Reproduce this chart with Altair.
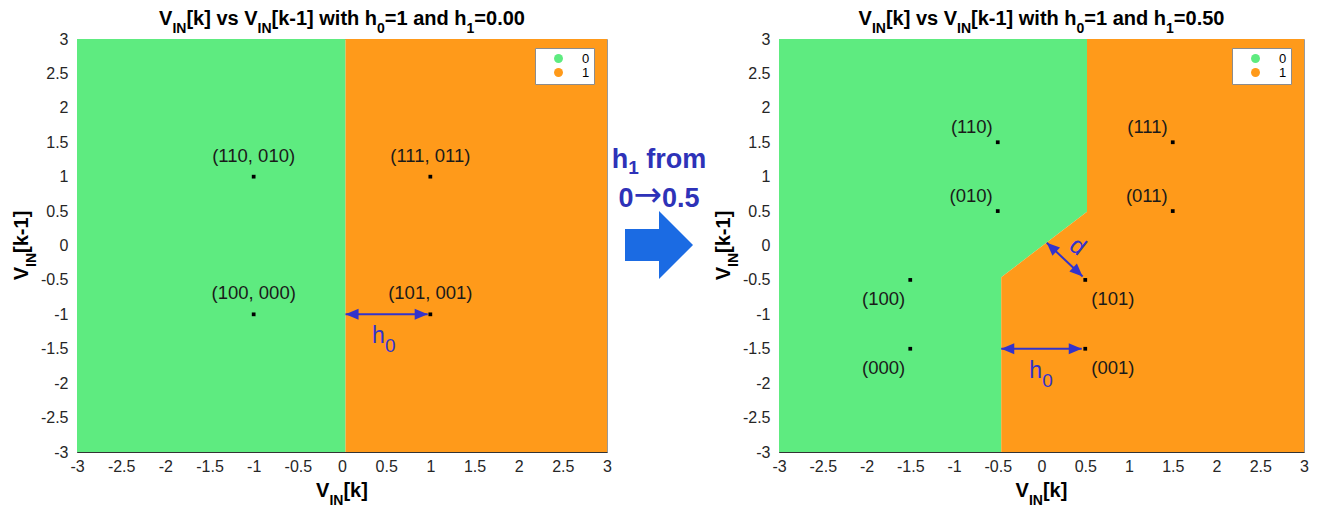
import math
import altair as alt
import pandas as pd

# ---------------- data ----------------
CLASSES = ["0", "1"]
CLASS_COLORS = ["#5EEB80", "#FF9A1A"]
TICKS = [-3, -2.5, -2, -1.5, -1, -0.5, 0, 0.5, 1, 1.5, 2, 2.5, 3]

# panel 1: h0 = 1, h1 = 0.00
P1_X = [-1, 1, -1, 1]
P1_Y = [1, 1, -1, -1]
P1_LABELS = ["(110, 010)", "(111, 011)", "(100, 000)", "(101, 001)"]
P1_BOUND_Y = [-3, 3]
P1_BOUND_X = [0.04, 0.04]
P1_H0_ARROW_X = [0.04, 0.97]
P1_H0_ARROW_Y = [-1, -1]
P1_H0_TEXT_XY = [0.34, -1.42]

# panel 2: h0 = 1, h1 = 0.50
P2_X = [-0.5, 1.5, -0.5, 1.5, -1.5, 0.5, -1.5, 0.5]
P2_Y = [1.5, 1.5, 0.5, 0.5, -0.5, -0.5, -1.5, -1.5]
P2_LABELS = ["(110)", "(111)", "(010)", "(011)", "(100)", "(101)", "(000)", "(001)"]
P2_BOUND_Y = [-3, -0.46, 0.49, 3]
P2_BOUND_X = [-0.46, -0.46, 0.52, 0.52]
P2_H0_ARROW_X = [-0.46, 0.46]
P2_H0_ARROW_Y = [-1.5, -1.5]
P2_H0_TEXT_XY = [-0.14, -1.93]
P2_D_ARROW_X = [0.06, 0.47]
P2_D_ARROW_Y = [0.04, -0.45]
P2_D_TEXT_XY = [0.41, -0.02]

# ---------------- style ----------------
FONT = "Liberation Sans"
BLUE = "#3333CC"
TXT_BLUE = "#2E32B8"
BIG_ARROW = "#1B6BE3"
W1, W2, WM, H = 530, 525, 172, 413
ONE = pd.DataFrame({"k": [0]})

BOLD_W = {" ": 278, "(": 333, ")": 333, ",": 278, "-": 333, ".": 278, "=": 584,
          "[": 333, "]": 333, "I": 278, "N": 722, "V": 667, "a": 556, "d": 611,
          "f": 333, "h": 611, "i": 278, "k": 556, "m": 889, "n": 611, "o": 611,
          "r": 389, "s": 556, "t": 333, "v": 556, "w": 778, "\u2192": 838}


def tw(s, size):
    return sum(BOLD_W.get(c, 556) for c in s) * size / 1000.0


def txt(t, x, y, size, bold=False, color="black", align="left",
        baseline="alphabetic", angle=0, font=FONT):
    return alt.Chart(ONE).mark_text(
        text=t, fontSize=size, font=font,
        fontWeight="bold" if bold else "normal", color=color,
        align=align, baseline=baseline, angle=angle,
    ).encode(x=alt.value(x), y=alt.value(y))


def rich(pieces, c, base, size=20, sub=14, drop=8, color="black", vertical=False):
    """pieces: (text, is_sub[, font, size, bold, dy])"""
    specs = []
    for p in pieces:
        t, s = p[0], p[1]
        font = p[2] if len(p) > 2 else FONT
        fs = p[3] if len(p) > 3 else (sub if s else size)
        bold = p[4] if len(p) > 4 else True
        extra = p[5] if len(p) > 5 else 0
        specs.append((t, s, font, fs, bold, extra, tw(t, fs)))
    off = -sum(sp[-1] for sp in specs) / 2
    out = []
    for t, s, font, fs, bold, extra, w in specs:
        lead = len(t) - len(t.lstrip(" "))
        shown = t.lstrip(" ")
        pos = off + tw(" " * lead, fs)
        d = (drop if s else 0) + extra
        if vertical:
            out.append(txt(shown, base + d, c - pos, fs, bold, color, angle=270, font=font))
        else:
            out.append(txt(shown, c + pos, base + d, fs, bold, color, font=font))
        off += w
    return out


def title_pieces(h1):
    return [("V", 0), ("IN", 1), ("[k] vs V", 0), ("IN", 1), ("[k-1] with h", 0),
            ("0", 1), ("=1 and h", 0), ("1", 1), ("=" + h1, 0)]


def axis_common():
    return dict(values=TICKS, title=None, grid=False, ticks=False, labelOverlap=False,
                labelExpr="'' + datum.value", labelFontSize=16, labelFont=FONT,
                labelColor="#262626", domainColor="#333333", labelFlush=False)


SCALE = alt.Scale(domain=[-3, 3], nice=False, zero=False)


def X(f="x"):
    return alt.X(f + ":Q", scale=SCALE, axis=alt.Axis(labelPadding=6, **axis_common()))


def Y(f="y"):
    return alt.Y(f + ":Q", scale=SCALE, axis=alt.Axis(labelPadding=9, **axis_common()))


def regions(bx, by, legend_x):
    rows = []
    for xb, yb in zip(bx, by):
        rows.append({"cls": CLASSES[0], "y": yb, "x": -3, "x2": xb})
    for xb, yb in zip(bx, by):
        rows.append({"cls": CLASSES[1], "y": yb, "x": xb, "x2": 3})
    df = pd.DataFrame(rows)
    return alt.Chart(df).mark_area(orient="horizontal", interpolate="linear").encode(
        y=Y(), x=X(), x2="x2:Q",
        color=alt.Color("cls:N", scale=alt.Scale(domain=CLASSES, range=CLASS_COLORS),
                        legend=alt.Legend(orient="none", legendX=legend_x, legendY=9,
                                          title=None, symbolType="circle", symbolSize=80,
                                          symbolStrokeWidth=0, labelFontSize=13,
                                          labelFont=FONT, labelColor="black",
                                          fillColor="white", strokeColor="#8c8c8c",
                                          padding=4, rowPadding=-1,
                                          symbolOffset=13, labelOffset=17)),
        detail="cls:N",
    )


def points(xs, ys, labels):
    df = pd.DataFrame({"x": xs, "y": ys, "label": labels})
    return df, alt.Chart(df).mark_square(size=14, color="black", opacity=1).encode(
        x=X(), y=Y())


HEAD = "M 0 0 L -2 -0.85 L -2 0.85 Z"


def arrow(xs, ys, sx, sy):
    df = pd.DataFrame({"x": [xs[0]], "y": [ys[0]], "x2": [xs[1]], "y2": [ys[1]]})
    line = alt.Chart(df).mark_rule(color=BLUE, strokeWidth=2).encode(
        x=X(), y=Y(), x2="x2:Q", y2="y2:Q")
    ang = math.degrees(math.atan2(-(ys[1] - ys[0]) * sy, (xs[1] - xs[0]) * sx)) % 360
    h_end = alt.Chart(pd.DataFrame({"x": [xs[1]], "y": [ys[1]]})).mark_point(
        shape=HEAD, filled=True, size=169, color=BLUE, opacity=1, strokeWidth=0,
        angle=round(ang, 1)).encode(x=X(), y=Y())
    h_start = alt.Chart(pd.DataFrame({"x": [xs[0]], "y": [ys[0]]})).mark_point(
        shape=HEAD, filled=True, size=169, color=BLUE, opacity=1, strokeWidth=0,
        angle=round((ang + 180) % 360, 1)).encode(x=X(), y=Y())
    return [line, h_end, h_start]


def h0_label(xy):
    df = pd.DataFrame({"x": [xy[0]], "y": [xy[1]]})
    a = alt.Chart(df).mark_text(text="h", fontSize=23, font=FONT, color=BLUE,
                                align="left", baseline="alphabetic").encode(x=X(), y=Y())
    b = alt.Chart(df).mark_text(text="0", fontSize=19, font=FONT, color=BLUE,
                                align="left", baseline="alphabetic", dx=13, dy=9).encode(
        x=X(), y=Y())
    return [a, b]


# ---------------- left panel ----------------
sx1, sy1 = W1 / 6.0, H / 6.0
df1, pts1 = points(P1_X, P1_Y, P1_LABELS)
lab1 = alt.Chart(df1).mark_text(fontSize=18.5, font=FONT, color="#1a1a1a", dy=-21,
                                baseline="middle").encode(x=X(), y=Y(), text="label:N")
left_layers = [regions(P1_BOUND_X, P1_BOUND_Y, W1 - 72), pts1, lab1]
left_layers += arrow(P1_H0_ARROW_X, P1_H0_ARROW_Y, sx1, sy1)
left_layers += h0_label(P1_H0_TEXT_XY)
left_layers += rich(title_pieces("0.00"), W1 / 2, -14)
left_layers += rich([("V", 0), ("IN", 1), ("[k]", 0)], W1 / 2, H + 45)
left_layers += rich([("V", 0), ("IN", 1), ("[k-1]", 0)], H / 2, -49, vertical=True)
left = alt.layer(*left_layers).properties(width=W1, height=H)

# ---------------- right panel ----------------
sx2, sy2 = W2 / 6.0, H / 6.0
df2, pts2 = points(P2_X, P2_Y, P2_LABELS)
lab_top = alt.Chart(df2).transform_filter("datum.y > 0").mark_text(
    fontSize=18.5, font=FONT, color="#1a1a1a", dx=-5, dy=-15, align="right",
    baseline="middle").encode(x=X(), y=Y(), text="label:N")
lab_bl = alt.Chart(df2).transform_filter("datum.y < 0 && datum.x < 0").mark_text(
    fontSize=18.5, font=FONT, color="#1a1a1a", dx=-5, dy=19, align="right",
    baseline="middle").encode(x=X(), y=Y(), text="label:N")
lab_br = alt.Chart(df2).transform_filter("datum.y < 0 && datum.x > 0").mark_text(
    fontSize=18.5, font=FONT, color="#1a1a1a", dx=6, dy=19, align="left",
    baseline="middle").encode(x=X(), y=Y(), text="label:N")
d_df = pd.DataFrame({"x": [P2_D_TEXT_XY[0]], "y": [P2_D_TEXT_XY[1]]})
d_txt = alt.Chart(d_df).mark_text(text="d", fontSize=24, font=FONT, color=BLUE, angle=38,
                                  align="center", baseline="middle").encode(x=X(), y=Y())
right_layers = [regions(P2_BOUND_X, P2_BOUND_Y, W2 - 72), pts2, lab_top, lab_bl, lab_br]
right_layers += arrow(P2_H0_ARROW_X, P2_H0_ARROW_Y, sx2, sy2)
right_layers += arrow(P2_D_ARROW_X, P2_D_ARROW_Y, sx2, sy2)
right_layers += h0_label(P2_H0_TEXT_XY)
right_layers += [d_txt]
right_layers += rich(title_pieces("0.50"), W2 / 2, -14)
right_layers += rich([("V", 0), ("IN", 1), ("[k]", 0)], W2 / 2, H + 45)
right_layers += rich([("V", 0), ("IN", 1), ("[k-1]", 0)], H / 2, -49, vertical=True)
right = alt.layer(*right_layers).properties(width=W2, height=H)

# ---------------- middle annotation ----------------
BIG = "M -1 -0.47 L 0 -0.47 L 0 -1 L 1 0 L 0 1 L 0 0.47 L -1 0.47 Z"
mid_layers = rich([("h", 0), ("1", 1), (" from", 0)], 52, 129, size=27, sub=19, drop=6,
                  color=TXT_BLUE)
mid_layers += rich([("0", 0), ("\u2192", 0, "DejaVu Sans", 34, False, -1), ("0.5", 0)],
                   52, 168, size=27, sub=19, color=TXT_BLUE)
mid_layers += [alt.Chart(ONE).mark_point(shape=BIG, filled=True, size=4624, color=BIG_ARROW,
                                         opacity=1, strokeWidth=0).encode(
    x=alt.value(52), y=alt.value(206))]
mid = alt.layer(*mid_layers).properties(width=WM, height=H,
                                       view=alt.ViewBackground(strokeOpacity=0))

chart = alt.hconcat(left, mid, right, spacing=0, bounds="flush").resolve_scale(
    color="independent").resolve_legend(color="independent").properties(
    padding={"left": 3, "top": 0, "right": 0, "bottom": 0},
    background="white").configure_view(stroke="#999999", strokeWidth=1)

chart.save("out.html", embed_options={"renderer": "svg", "actions": False})
